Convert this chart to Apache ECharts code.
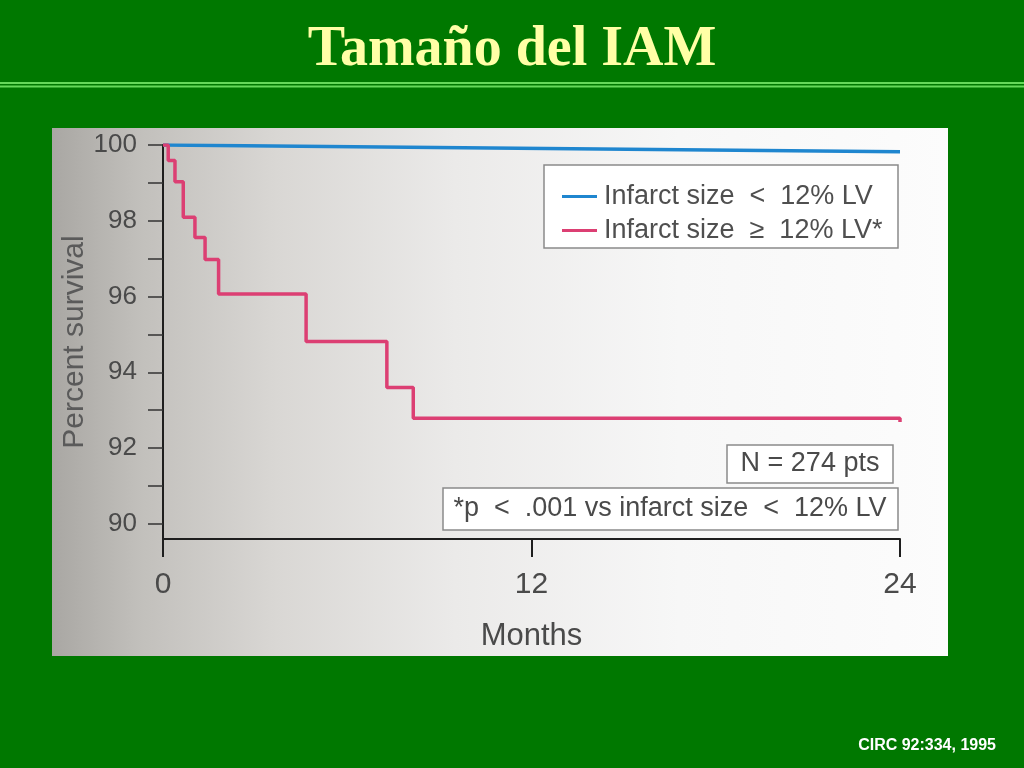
<!DOCTYPE html>
<html>
<head>
<meta charset="utf-8">
<script src="https://cdn.jsdelivr.net/npm/echarts@6/dist/echarts.min.js"></script>
<style>html,body{margin:0;padding:0;background:#007800;}#c{width:1024px;height:768px;}</style>
</head>
<body>
<div id="c"></div>
<script>
// ---- data ----
const titleText = 'Tamaño del IAM';
const sourceText = 'CIRC 92:334, 1995';
const seriesNames = ['Infarct size  <  12% LV', 'Infarct size  \u2265  12% LV*'];
const smallMonths = [0, 24];
const smallSurvival = [100, 99.82];
const largeMonths = [0, 0.17, 0.39, 0.66, 1.04, 1.37, 1.81, 4.66, 7.29, 8.15, 24];
const largeSurvival = [100, 99.59, 99.03, 98.09, 97.56, 96.98, 96.07, 94.81, 93.60, 92.79, 92.69];
const yLabelValues = [90, 92, 94, 96, 98, 100];
const yTickValues = [90, 91, 92, 93, 94, 95, 96, 97, 98, 99, 100];
const xTickValues = [0, 12, 24];
const yName = 'Percent survival';
const xName = 'Months';
const noteN = 'N = 274 pts';
const noteP = '*p  <  .001 vs infarct size  <  12% LV';

const zip = (a, b) => a.map((v, i) => [v, b[i]]);

const chart = echarts.init(document.getElementById('c'), null, {renderer: 'canvas'});
const sans = 'Liberation Sans, Arial, Helvetica, sans-serif';
chart.setOption({
  backgroundColor: '#007800',
  animation: false,
  title: [{
    text: titleText, left: 'center', top: 18,
    textStyle: {fontFamily: 'Liberation Serif, Times New Roman, serif', fontWeight: 'bold', fontSize: 56, color: '#ffffa6'}
  }, {
    text: sourceText, right: 23, top: 733,
    textStyle: {fontFamily: sans, fontWeight: 'bold', fontSize: 16, color: '#ffffff'}
  }],
  graphic: [
    {type: 'line', z: -5, shape: {x1: 0, y1: 83, x2: 1024, y2: 83}, style: {stroke: '#66d95a', lineWidth: 2}},
    {type: 'line', z: -5, shape: {x1: 0, y1: 86.5, x2: 1024, y2: 86.5}, style: {stroke: '#66d95a', lineWidth: 2}},
    {type: 'rect', z: -10, shape: {x: 52, y: 128, width: 896, height: 528},
      style: {fill: new echarts.graphic.LinearGradient(0, 0, 1, 0, [
        {offset: 0, color: '#a9a7a3'}, {offset: 0.1, color: '#c2c0bc'}, {offset: 0.25, color: '#d9d7d4'},
        {offset: 0.45, color: '#ebeae9'}, {offset: 0.7, color: '#f7f7f7'}, {offset: 1, color: '#fcfcfc'}])}},
    {type: 'rect', z: 1, shape: {x: 544, y: 165, width: 354, height: 83}, style: {fill: '#ffffff', stroke: '#8a8a8a', lineWidth: 1.5}},
    {type: 'rect', z: 1, shape: {x: 727, y: 445, width: 166, height: 38}, style: {fill: '#ffffff', stroke: '#8a8a8a', lineWidth: 1.5}},
    {type: 'text', z: 2, style: {x: 810, y: 464, text: noteN, align: 'center', verticalAlign: 'middle', font: '27px ' + sans, fill: '#4a4a4a'}},
    {type: 'rect', z: 1, shape: {x: 443, y: 488, width: 455, height: 42}, style: {fill: '#ffffff', stroke: '#8a8a8a', lineWidth: 1.5}},
    {type: 'text', z: 2, style: {x: 670, y: 509, text: noteP, align: 'center', verticalAlign: 'middle', font: '27px ' + sans, fill: '#4a4a4a'}}
  ],
  legend: {
    left: 557, top: 178, orient: 'vertical', itemGap: 7, itemWidth: 35, itemHeight: 3, z: 5,
    icon: 'rect',
    textStyle: {fontFamily: sans, fontSize: 27, color: '#4f4f4f', padding: [0, 0, 0, 2]},
    data: seriesNames
  },
  grid: {left: 163, top: 145, width: 737, height: 394},
  xAxis: {
    type: 'value', min: 0, max: 24, interval: 12,
    name: xName, nameLocation: 'middle', nameGap: 82, nameMoveOverlap: false,
    nameTextStyle: {fontFamily: sans, fontSize: 31, color: '#4a4a4a'},
    axisLine: {lineStyle: {color: '#1e1e1e', width: 2}},
    axisTick: {length: 18, lineStyle: {color: '#1e1e1e', width: 2}},
    axisLabel: {margin: 31, fontFamily: sans, fontSize: 30, color: '#4a4a4a', customValues: xTickValues},
    splitLine: {show: false}
  },
  yAxis: {
    type: 'value', min: 89.6, max: 100,
    name: yName, nameLocation: 'middle', nameGap: 73, nameMoveOverlap: false,
    nameTextStyle: {fontFamily: sans, fontSize: 30, color: '#5a5a5a'},
    axisLine: {show: true, lineStyle: {color: '#1e1e1e', width: 2}},
    axisTick: {show: true, length: 15, customValues: yTickValues, lineStyle: {color: '#333', width: 1.5}},
    axisLabel: {margin: 26, fontFamily: sans, fontSize: 26, color: '#4a4a4a', customValues: yLabelValues},
    splitLine: {show: false}
  },
  series: [{
    name: seriesNames[0], type: 'line', symbol: 'none', z: 3,
    lineStyle: {color: '#1f86cf', width: 3.5}, itemStyle: {color: '#1f86cf'},
    data: zip(smallMonths, smallSurvival)
  }, {
    name: seriesNames[1], type: 'line', symbol: 'none', step: 'end', z: 3,
    lineStyle: {color: '#dc3f73', width: 3.5}, itemStyle: {color: '#dc3f73'},
    data: zip(largeMonths, largeSurvival)
  }]
});
</script>
</body>
</html>
